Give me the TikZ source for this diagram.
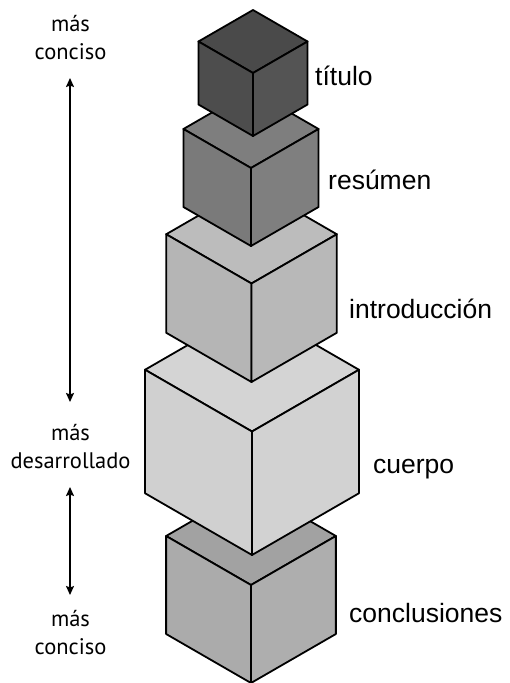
\documentclass[tikz,border=0pt]{standalone}
\usepackage{fontspec}
\setmainfont{Liberation Sans}
\newfontfamily\leftfont{PT Sans}
\usetikzlibrary{arrows.meta}
\definecolor{cA}{HTML}{4D4D4D}
\definecolor{cAt}{HTML}{4A4A4A}
\definecolor{cB}{HTML}{7A7A7A}
\definecolor{cBt}{HTML}{7E7E7E}
\definecolor{cC}{HTML}{B5B5B5}
\definecolor{cCt}{HTML}{BCBCBC}
\definecolor{cD}{HTML}{D0D0D0}
\definecolor{cDt}{HTML}{D4D4D4}
\definecolor{cE}{HTML}{ABABAB}
\definecolor{cEt}{HTML}{A2A2A2}
\tikzset{
  cubeedge/.style={draw=black, line width=1.8pt, line join=round},
  rlabel/.style={font=\fontsize{26.5}{30}\selectfont, inner sep=0pt, anchor=base west},
  llabel/.style={font=\leftfont\fontsize{22.5}{28}\selectfont, inner sep=0pt, align=center, anchor=south},
  arr/.style={line width=1.6pt, {Stealth[length=9pt,width=8pt,inset=1.5pt]}-{Stealth[length=9pt,width=8pt,inset=1.5pt]}}
}
% #1 centre x, #2 top y, #3 edge, #4 top colour, #5 side colour
\newcommand\isocube[5]{%
  \pgfmathsetmacro\cw{0.866*#3}%
  \pgfmathsetmacro\ch{0.5*#3}%
  \filldraw[cubeedge, fill=#4] (#1,#2) -- ({#1+\cw},{#2+\ch}) -- (#1,{#2+#3}) -- ({#1-\cw},{#2+\ch}) -- cycle;
  \filldraw[cubeedge, fill=#5] ({#1-\cw},{#2+\ch}) -- (#1,{#2+#3}) -- (#1,{#2+2*#3}) -- ({#1-\cw},{#2+3*\ch}) -- cycle;
  \filldraw[cubeedge, fill=#5!96!white] ({#1+\cw},{#2+\ch}) -- (#1,{#2+#3}) -- (#1,{#2+2*#3}) -- ({#1+\cw},{#2+3*\ch}) -- cycle;
}
\begin{document}
\begin{tikzpicture}[x=1pt,y=-1pt]
\useasboundingbox (0,0) rectangle (509,683);
\fill[white] (0,0) rectangle (509,683);
% cubes, bottom first
\isocube{251}{487}{98}{cEt}{cE}
\isocube{252}{308}{123.5}{cDt}{cD}
\isocube{251.5}{185}{98.5}{cCt}{cC}
\isocube{251}{90}{78}{cBt}{cB}
\isocube{253}{10}{63}{cAt}{cA}
% right labels
\node[rlabel] (titulo) at (315,85) {título};
\node[rlabel] (resumen) at (328,189) {resúmen};
\node[rlabel] (intro) at (349,318) {introducción};
\node[rlabel] (cuerpo) at (373,473) {cuerpo};
\node[rlabel] (concl) at (349,622) {conclusiones};
% left labels
\node[llabel] (top) at (70.5,60) {más\\conciso};
\node[llabel] (mid) at (70.5,469) {más\\desarrollado};
\node[llabel] (bot) at (70.5,655) {más\\conciso};
\coordinate (a1s) at (70,78);
\coordinate (a1e) at (70,402);
\coordinate (a2s) at (70,487);
\coordinate (a2e) at (70,595);
\draw[arr] (a1s) -- (a1e);
\draw[arr] (a2s) -- (a2e);
\end{tikzpicture}
\end{document}
